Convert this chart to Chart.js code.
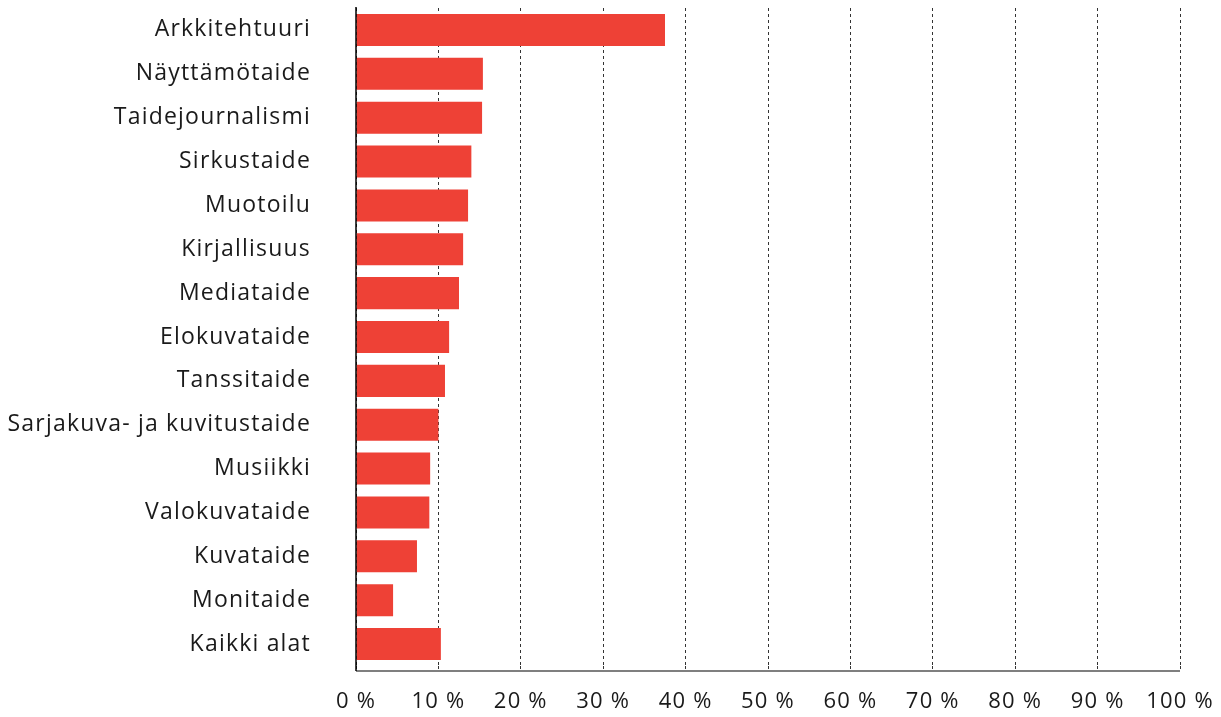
<!DOCTYPE html>
<html>
<head>
<meta charset="utf-8">
<script src="https://cdn.jsdelivr.net/npm/chart.js@4"></script>
<style>
html,body{margin:0;padding:0;background:#fff;}
#wrap{width:1221px;height:717px;}
</style>
</head>
<body>
<div id="wrap"><canvas id="c" width="1221" height="717"></canvas></div>
<script>
const categories = ["Arkkitehtuuri","Näyttämötaide","Taidejournalismi","Sirkustaide","Muotoilu","Kirjallisuus","Mediataide","Elokuvataide","Tanssitaide","Sarjakuva- ja kuvitustaide","Musiikki","Valokuvataide","Kuvataide","Monitaide","Kaikki alat"];
const values = [37.5, 15.4, 15.3, 14.0, 13.6, 13.0, 12.5, 11.3, 10.8, 10.0, 9.0, 8.9, 7.4, 4.5, 10.3];
const xTicks = [0,10,20,30,40,50,60,70,80,90,100];

const spacing = {
  id: 'spacing',
  beforeInit(chart) { chart.ctx.letterSpacing = '1.2px'; },
  beforeUpdate(chart) { chart.ctx.letterSpacing = '1.2px'; },
  beforeDraw(chart) { chart.ctx.letterSpacing = '1.2px'; }
};

const axisLines = {
  id: 'axisLines',
  afterDatasetsDraw(chart) {
    const {ctx, chartArea: a} = chart;
    ctx.save();
    ctx.strokeStyle = '#555';
    ctx.lineWidth = 1.5;
    ctx.beginPath();
    ctx.moveTo(a.left, a.bottom + 5);
    ctx.lineTo(a.right, a.bottom + 5);
    ctx.stroke();
    ctx.strokeStyle = '#000';
    ctx.lineWidth = 1.5;
    ctx.beginPath();
    ctx.moveTo(a.left, a.top - 1);
    ctx.lineTo(a.left, a.bottom + 5);
    ctx.stroke();
    ctx.restore();
  }
};

new Chart(document.getElementById('c'), {
  type: 'bar',
  data: {
    labels: categories,
    datasets: [{
      data: values,
      backgroundColor: '#ee4136',
      borderWidth: 0,
      barPercentage: 0.73,
      categoryPercentage: 1.0
    }]
  },
  options: {
    indexAxis: 'y',
    responsive: false,
    animation: false,
    devicePixelRatio: 1,
    layout: { padding: { top: 8, right: 41, bottom: 0, left: 0 } },
    plugins: { legend: { display: false }, tooltip: { enabled: false } },
    scales: {
      x: {
        type: 'linear',
        min: 0, max: 100,
        afterBuildTicks(s) { s.ticks = xTicks.map(v => ({value: v})); },
        afterFit(s) { s.height = 51; s.paddingLeft = 0; s.paddingRight = 0; },
        grid: {
          display: true,
          drawOnChartArea: true,
          drawTicks: true,
          tickLength: 5,
          color: '#333',
          lineWidth: 1,
          tickColor: '#333',
          tickBorderDash: [3,3]
        },
        border: { display: false, dash: [3,3] },
        ticks: {
          padding: 18,
          color: '#1a1a1a',
          font: { family: '"Open Sans"', size: 22 },
          maxRotation: 0,
          autoSkip: false,
          callback: (v) => v + ' %'
        }
      },
      y: {
        type: 'category',
        afterFit(s) { s.width = 356; s.paddingTop = 0; s.paddingBottom = 0; },
        grid: { display: false, drawTicks: true, tickLength: 45 },
        border: { display: false },
        ticks: {
          padding: 0,
          color: '#1a1a1a',
          font: { family: '"Open Sans"', size: 23 },
          autoSkip: false
        }
      }
    }
  },
  plugins: [spacing, axisLines]
});
</script>
</body>
</html>
